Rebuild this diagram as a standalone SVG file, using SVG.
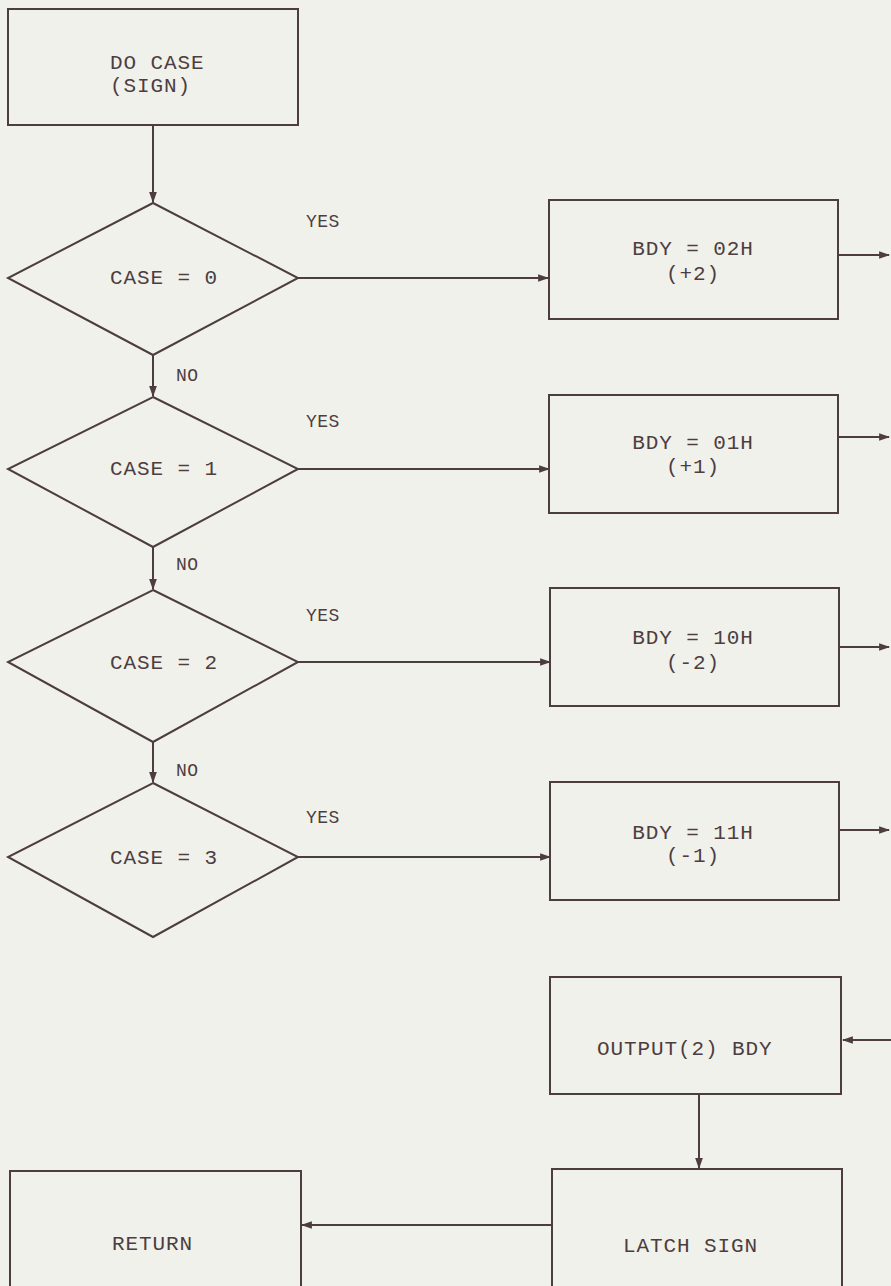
<svg xmlns="http://www.w3.org/2000/svg" width="891" height="1286" viewBox="0 0 891 1286">
<defs>
<style>
.bg{fill:#f1f1eb}
.n{fill:none;stroke:#4d3d40;stroke-width:2}
.c{fill:none;stroke:#4d3d40;stroke-width:2}
.t{font-family:"Liberation Mono","DejaVu Sans Mono",monospace;font-size:21px;fill:#4d3d40;letter-spacing:0.9px}
.s{font-family:"Liberation Mono","DejaVu Sans Mono",monospace;font-size:18px;fill:#4d3d40;letter-spacing:0.5px}
</style>
<marker id="ahb" viewBox="0 0 10 10" refX="9" refY="5" markerWidth="11" markerHeight="11" orient="auto" markerUnits="userSpaceOnUse">
<path d="M0,1.5 L10,5 L0,8.5 Z" fill="#4d3d40"/>
</marker>
</defs>
<rect class="bg" x="0" y="0" width="891" height="1286"/>

<g id="connectors">
<line class="c" x1="153" y1="125" x2="153" y2="202" stroke-width="3" marker-end="url(#ahb)"/>
<line class="c" x1="153" y1="355" x2="153" y2="396" marker-end="url(#ahb)"/>
<line class="c" x1="153" y1="547" x2="153" y2="589" marker-end="url(#ahb)"/>
<line class="c" x1="153" y1="742" x2="153" y2="782" marker-end="url(#ahb)"/>
<line class="c" x1="298" y1="278" x2="548" y2="278" marker-end="url(#ahb)"/>
<line class="c" x1="298" y1="469" x2="549" y2="469" marker-end="url(#ahb)"/>
<line class="c" x1="298" y1="662" x2="550" y2="662" marker-end="url(#ahb)"/>
<line class="c" x1="298" y1="857" x2="550" y2="857" marker-end="url(#ahb)"/>
<line class="c" x1="838" y1="255" x2="889" y2="255" marker-end="url(#ahb)"/>
<line class="c" x1="838" y1="437" x2="889" y2="437" marker-end="url(#ahb)"/>
<line class="c" x1="839" y1="647" x2="889" y2="647" marker-end="url(#ahb)"/>
<line class="c" x1="839" y1="830" x2="889" y2="830" marker-end="url(#ahb)"/>
<line class="c" x1="891" y1="1040" x2="843" y2="1040" marker-end="url(#ahb)"/>
<line class="c" x1="699" y1="1094" x2="699" y2="1168" stroke-width="3" marker-end="url(#ahb)"/>
<line class="c" x1="552" y1="1225" x2="302" y2="1225" marker-end="url(#ahb)"/>
<text class="s" x="306" y="227">YES</text>
<text class="s" x="306" y="427">YES</text>
<text class="s" x="306" y="621">YES</text>
<text class="s" x="306" y="823">YES</text>
<text class="s" x="176" y="381">NO</text>
<text class="s" x="176" y="570">NO</text>
<text class="s" x="176" y="776">NO</text>
</g>

<g id="start">
<rect class="n" x="8" y="9" width="290" height="116"/>
<text class="t" x="110" y="69">DO CASE</text>
<text class="t" x="110" y="92">(SIGN)</text>
</g>

<g id="case0">
<polygon class="n" points="153,203 298,278 153,355 8,278"/>
<text class="t" x="110" y="284">CASE = 0</text>
</g>
<g id="case1">
<polygon class="n" points="153,397 298,469 153,547 8,469"/>
<text class="t" x="110" y="475">CASE = 1</text>
</g>
<g id="case2">
<polygon class="n" points="153,590 298,662 153,742 8,662"/>
<text class="t" x="110" y="669">CASE = 2</text>
</g>
<g id="case3">
<polygon class="n" points="153,783 298,857 153,937 8,857"/>
<text class="t" x="110" y="864">CASE = 3</text>
</g>

<g id="bdy02">
<rect class="n" x="549" y="200" width="289" height="119"/>
<text class="t" x="693" y="255" text-anchor="middle">BDY = 02H</text>
<text class="t" x="693" y="280" text-anchor="middle">(+2)</text>
</g>
<g id="bdy01">
<rect class="n" x="549" y="395" width="289" height="118"/>
<text class="t" x="693" y="449" text-anchor="middle">BDY = 01H</text>
<text class="t" x="693" y="473" text-anchor="middle">(+1)</text>
</g>
<g id="bdy10">
<rect class="n" x="550" y="588" width="289" height="118"/>
<text class="t" x="693" y="644" text-anchor="middle">BDY = 10H</text>
<text class="t" x="693" y="669" text-anchor="middle">(-2)</text>
</g>
<g id="bdy11">
<rect class="n" x="550" y="782" width="289" height="118"/>
<text class="t" x="693" y="839" text-anchor="middle">BDY = 11H</text>
<text class="t" x="693" y="862" text-anchor="middle">(-1)</text>
</g>

<g id="output">
<rect class="n" x="550" y="977" width="291" height="117"/>
<text class="t" x="597" y="1055">OUTPUT(2) BDY</text>
</g>
<g id="latch">
<rect class="n" x="552" y="1169" width="290" height="130"/>
<text class="t" x="623" y="1252">LATCH SIGN</text>
</g>
<g id="return">
<rect class="n" x="10" y="1171" width="291" height="130"/>
<text class="t" x="112" y="1250">RETURN</text>
</g>
</svg>
